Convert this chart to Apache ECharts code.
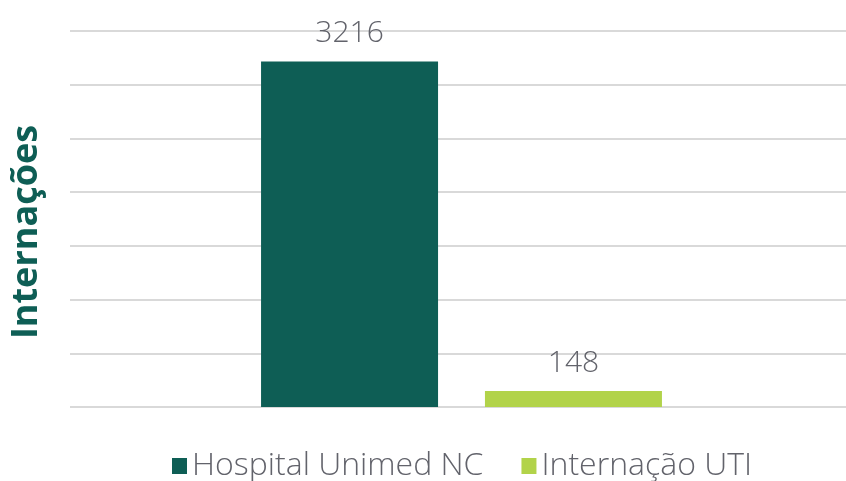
<!DOCTYPE html>
<html>
<head>
<meta charset="utf-8">
<script src="https://cdn.jsdelivr.net/npm/echarts@6/dist/echarts.min.js"></script>
<style>
  html, body { margin: 0; padding: 0; background: #fff; }
  #chart { width: 846px; height: 481px; }
</style>
</head>
<body>
<div id="chart"></div>
<script>
// dados
const categories = ['Internações'];
const seriesNames = ['Hospital Unimed NC', 'Internação UTI'];
const hospitalValues = [3216];
const utiValues = [148];
const colors = ['#0e5e55', '#b2d34a'];

const chart = echarts.init(document.getElementById('chart'));

const labelStyle = {
  show: true,
  position: 'top',
  distance: 13,
  fontSize: 30,
  fontFamily: 'Open Sans',
  fontWeight: 300,
  color: '#62636b',
};

const option = {
  animation: false,
  color: colors,
  grid: { left: 70, right: -7, top: 31, bottom: 74, outerBoundsMode: 'none' },
  legend: {
    top: 445,
    left: 167,
    itemWidth: 15,
    itemHeight: 16,
    itemGap: 38,
    icon: 'rect',
    selectedMode: false,
    textStyle: {
      fontSize: 32,
      fontFamily: 'Open Sans',
      fontWeight: 300,
      color: '#62636b',
    },
    data: seriesNames,
  },
  xAxis: {
    type: 'category',
    data: categories,
    axisLine: { show: false },
    axisTick: { show: false },
    axisLabel: { show: false },
  },
  yAxis: {
    type: 'value',
    min: 0,
    max: 3500,
    interval: 500,
    name: 'Internações',
    nameLocation: 'middle',
    nameGap: 25,
    nameRotate: 90,
    nameTextStyle: {
      fontSize: 36,
      fontWeight: 'bold',
      fontFamily: 'Open Sans',
      color: '#0e5e55',
      padding: [0, 26, 0, 0],
    },
    axisLabel: { show: false },
    axisLine: { show: false },
    axisTick: { show: false },
    splitLine: { lineStyle: { color: '#d9d9d9', width: 2 } },
  },
  series: [
    {
      name: seriesNames[0],
      type: 'bar',
      data: hospitalValues,
      barWidth: 177,
      barGap: '26.5%',
      label: labelStyle,
    },
    {
      name: seriesNames[1],
      type: 'bar',
      data: utiValues,
      barWidth: 177,
      label: labelStyle,
    },
  ],
};

chart.setOption(option);
</script>
</body>
</html>
